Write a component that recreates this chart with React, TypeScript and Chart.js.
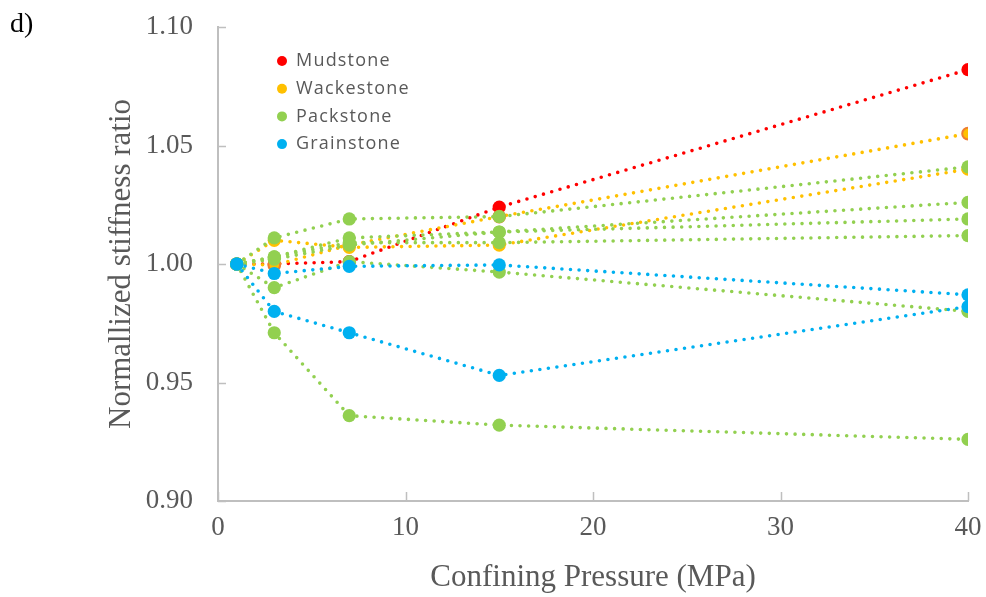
import React, { useEffect, useRef } from "react";
import { Chart, registerables } from "chart.js";

Chart.register(...registerables);

// ---- data ----
const pressure = [1, 3, 7, 15, 40];

const mudstone = [1.0, 1.0, 1.001, 1.024, 1.082];
const wackestone1 = [1.0, 0.9995, 1.008, 1.02, 1.055];
const wackestone2 = [1.0, 1.01, 1.007, 1.008, 1.04];
const packstone1 = [1.0, 1.011, 1.019, 1.02, 1.041];
const packstone2 = [1.0, 1.003, 1.011, 1.0135, 1.026];
const packstone3 = [1.0, 1.002, 1.008, 1.0135, 1.019];
const packstone4 = [1.0, 1.003, 1.009, 1.009, 1.012];
const packstone5 = [1.0, 0.99, 1.001, 0.9966, 0.98];
const packstone6 = [1.0, 0.971, 0.936, 0.932, 0.926];
const grainstone1 = [1.0, 0.996, 0.999, 0.9996, 0.987];
const grainstone2 = [1.0, 0.98, 0.971, 0.953, 0.982];

const xTicks = [0, 10, 20, 30, 40];
const yTicks = [0.9, 0.95, 1.0, 1.05, 1.1];

const legendLabels = ["Mudstone", "Wackestone", "Packstone", "Grainstone"];
const RED = "#FF0000";
const YELLOW = "#FFC000";
const GREEN = "#92D050";
const BLUE = "#00B0F0";
const ORANGE = "#ED7D31";
const legendColors = [RED, YELLOW, GREEN, BLUE];

const xTitle = "Confining Pressure (MPa)";
const yTitle = "Normallized stiffness ratio";
const panelLabel = "d)";

type Series = { name: string; values: number[]; color: string; border?: string };

const seriesList: Series[] = [
  { name: "Mudstone", values: mudstone, color: RED },
  { name: "Wackestone", values: wackestone1, color: YELLOW, border: ORANGE },
  { name: "Wackestone", values: wackestone2, color: YELLOW },
  { name: "Packstone", values: packstone1, color: GREEN },
  { name: "Packstone", values: packstone2, color: GREEN },
  { name: "Packstone", values: packstone3, color: GREEN },
  { name: "Packstone", values: packstone4, color: GREEN },
  { name: "Packstone", values: packstone5, color: GREEN },
  { name: "Packstone", values: packstone6, color: GREEN },
  { name: "Grainstone", values: grainstone1, color: BLUE },
  { name: "Grainstone", values: grainstone2, color: BLUE },
];

const AXIS_COLOR = "#BFBFBF";
const TEXT_COLOR = "#595959";
const SERIF = '"Liberation Serif", "Times New Roman", serif';

const overlayPlugin = {
  id: "overlay",
  afterDraw(chart: any) {
    const ctx = chart.ctx as CanvasRenderingContext2D;
    const area = chart.chartArea;
    const xs = chart.scales.x;
    const ys = chart.scales.y;
    ctx.save();
    // inside tick marks
    ctx.strokeStyle = AXIS_COLOR;
    ctx.lineWidth = 1.5;
    xTicks.forEach((v) => {
      const px = Math.round(xs.getPixelForValue(v)) + 0.5;
      ctx.beginPath();
      ctx.moveTo(px, area.bottom);
      ctx.lineTo(px, area.bottom - 9);
      ctx.stroke();
    });
    yTicks.forEach((v) => {
      const py = Math.round(ys.getPixelForValue(v)) + 0.5;
      ctx.beginPath();
      ctx.moveTo(area.left, py);
      ctx.lineTo(area.left + 8, py);
      ctx.stroke();
    });
    // legend inside plot
    const lx = area.left + 64;
    const ly0 = area.top + 34;
    const step = 27.7;
    ctx.font = '18px "Open Sans", sans-serif';
    try {
      (ctx as any).letterSpacing = "1.2px";
    } catch (e) {}
    ctx.textBaseline = "middle";
    ctx.textAlign = "left";
    legendLabels.forEach((lab, i) => {
      const y = ly0 + i * step;
      ctx.fillStyle = legendColors[i];
      ctx.beginPath();
      ctx.arc(lx, y, 5, 0, Math.PI * 2);
      ctx.fill();
      ctx.fillStyle = TEXT_COLOR;
      ctx.fillText(lab, lx + 14, y);
    });
    try {
      (ctx as any).letterSpacing = "0px";
    } catch (e) {}
    // panel label
    ctx.fillStyle = "#000000";
    ctx.font = "28px " + SERIF;
    ctx.textBaseline = "alphabetic";
    ctx.fillText(panelLabel, 10, 32);
    ctx.restore();
  },
};

export default function App() {
  const canvasRef = useRef<HTMLCanvasElement | null>(null);

  useEffect(() => {
    if (!canvasRef.current) return;
    const n = seriesList.length;
    const datasets = seriesList.map((s, i) => ({
      label: s.name,
      data: pressure.map((x, j) => ({ x, y: s.values[j] })),
      borderColor: s.color,
      backgroundColor: s.color,
      pointBackgroundColor: s.color,
      pointBorderColor: s.border || s.color,
      pointBorderWidth: s.border ? 2 : 0,
      pointRadius: s.border ? 5.8 : 6.6,
      pointHoverRadius: 6.6,
      borderWidth: 3.6,
      borderDash: [0, 8.6],
      borderCapStyle: "round" as const,
      fill: false,
      tension: 0,
      order: n - i,
    }));

    const chart = new Chart(canvasRef.current, {
      type: "line",
      data: { datasets },
      plugins: [overlayPlugin],
      options: {
        animation: false,
        responsive: true,
        maintainAspectRatio: false,
        layout: { padding: { top: 27, right: 18, left: 0, bottom: 0 } },
        plugins: {
          legend: { display: false },
          tooltip: { enabled: false },
        },
        scales: {
          x: {
            type: "linear",
            min: 0,
            max: 40,
            afterFit: (s: any) => {
              s.height = 96;
              s.paddingLeft = 0;
              s.paddingRight = 0;
            },
            afterBuildTicks: (s: any) => {
              s.ticks = xTicks.map((v) => ({ value: v }));
            },
            ticks: {
              font: { family: SERIF, size: 27 },
              color: TEXT_COLOR,
              padding: 11,
              maxRotation: 0,
              callback: (v: any) => String(v),
            },
            grid: { drawOnChartArea: false, drawTicks: false },
            border: { color: AXIS_COLOR, width: 2 },
            title: {
              display: true,
              text: xTitle,
              font: { family: SERIF, size: 31 },
              color: TEXT_COLOR,
              padding: { top: 0, bottom: 1 },
            },
          },
          y: {
            type: "linear",
            min: 0.9,
            max: 1.1,
            afterFit: (s: any) => {
              s.width = 218;
              s.paddingTop = 0;
              s.paddingBottom = 0;
            },
            afterBuildTicks: (s: any) => {
              s.ticks = yTicks.map((v) => ({ value: v }));
            },
            ticks: {
              font: { family: SERIF, size: 27 },
              color: TEXT_COLOR,
              padding: 25,
              callback: (v: any) => Number(v).toFixed(2),
            },
            grid: { drawOnChartArea: false, drawTicks: false },
            border: { color: AXIS_COLOR, width: 2 },
            title: {
              display: true,
              text: yTitle,
              font: { family: SERIF, size: 31 },
              color: TEXT_COLOR,
              padding: { top: 103, bottom: 0 },
            },
          },
        },
      },
    });
    return () => chart.destroy();
  }, []);

  return (
    <div style={{ position: "absolute", left: 0, top: 0, width: 986, height: 597 }}>
      <canvas ref={canvasRef} />
    </div>
  );
}
